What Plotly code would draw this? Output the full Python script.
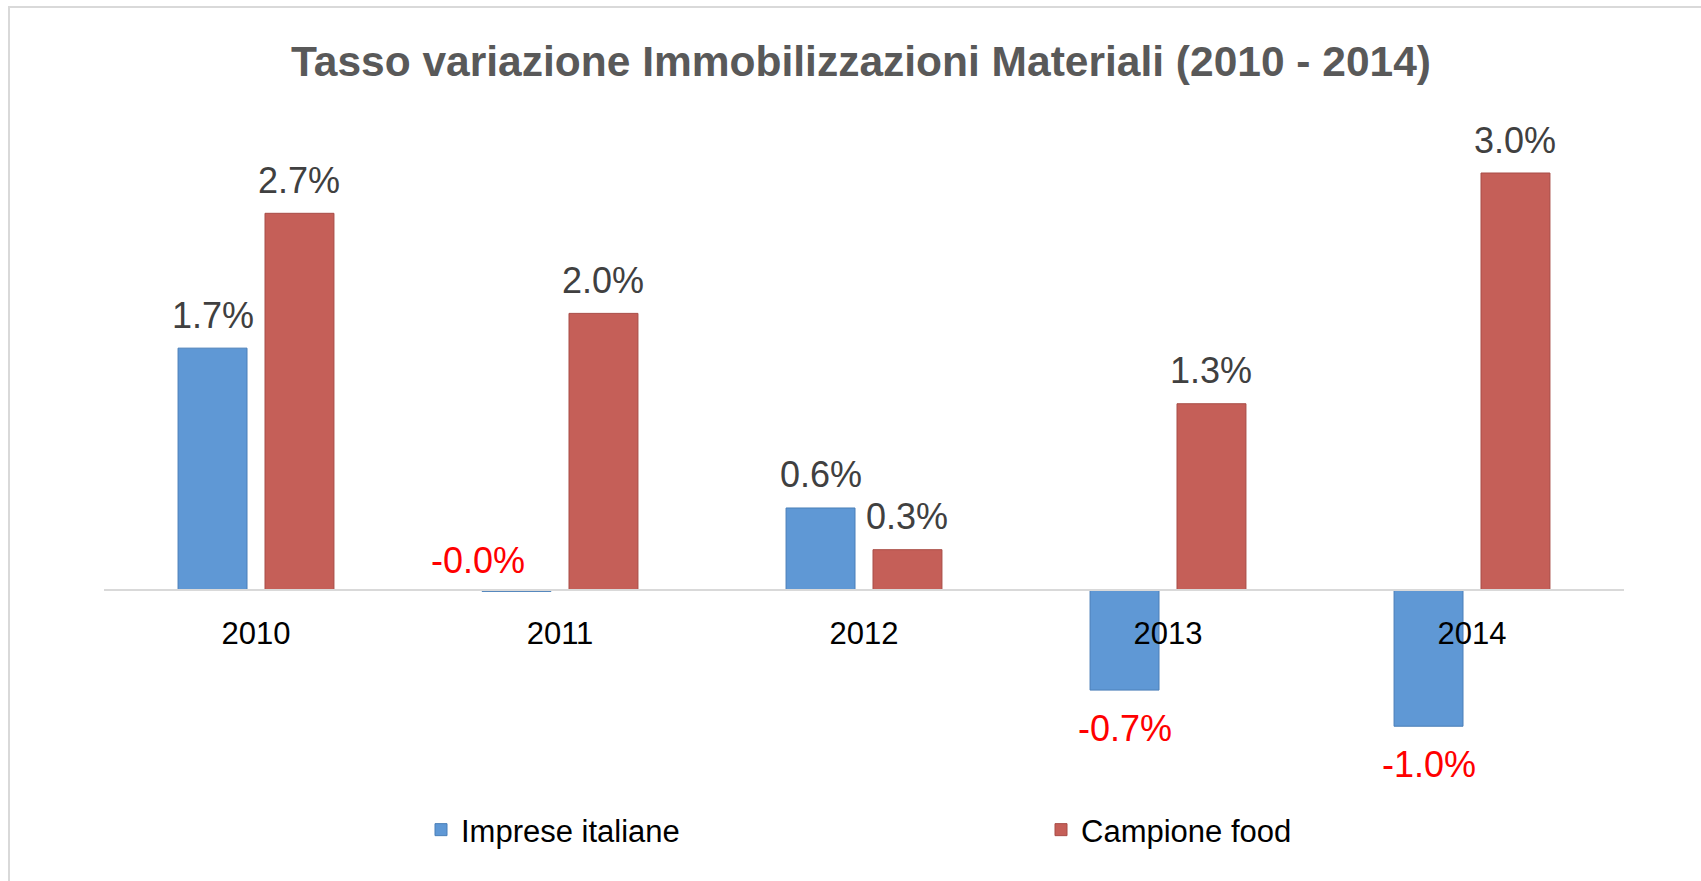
import plotly.graph_objects as go

# ---- data ----
years = ["2010", "2011", "2012", "2013", "2014"]
imprese_italiane = [1.74, -0.01, 0.59, -0.72, -0.98]
campione_food = [2.71, 1.99, 0.29, 1.34, 3.00]
imprese_labels = ["1.7%", "-0.0%", "0.6%", "-0.7%", "-1.0%"]
food_labels = ["2.7%", "2.0%", "0.3%", "1.3%", "3.0%"]
series_names = ["Imprese italiane", "Campione food"]

# ---- style ----
W, H = 1701, 881
ML, MR, MT, MB = 104, 77, 100, 80
ZERO_PX = 590
PX_PER_UNIT = 139.0
Y_TOP = (ZERO_PX - MT) / PX_PER_UNIT
Y_BOT = Y_TOP - (H - MT - MB) / PX_PER_UNIT
BARGAP = 0.428
BARGROUPGAP = 0.207
BLUE = "#5F98D5"
RED = "#C55F58"
FONT = "Liberation Sans, Arial, sans-serif"
LABEL_GREY = "#404040"

plot_w = W - ML - MR
plot_h = H - MT - MB

fig = go.Figure()
fig.add_trace(go.Bar(name=series_names[0], x=years, y=imprese_italiane,
                     marker=dict(color=BLUE, line=dict(color="#4A7FB8", width=1)),
                     legend="legend"))
fig.add_trace(go.Bar(name=series_names[1], x=years, y=campione_food,
                     marker=dict(color=RED, line=dict(color="#A84C46", width=1)),
                     legend="legend2"))

slot = (1 - BARGAP) / 4.0
annotations = []
for s, (vals, labs) in enumerate([(imprese_italiane, imprese_labels), (campione_food, food_labels)]):
    off = -slot if s == 0 else slot
    for i, (v, lab) in enumerate(zip(vals, labs)):
        if lab.startswith("-0.0"):
            annotations.append(dict(x=i - 0.271, y=0, xref="x", yref="y", text=lab,
                                    showarrow=False, yanchor="middle", yshift=30,
                                    font=dict(family=FONT, size=36, color="#FF0000")))
        elif v >= 0:
            annotations.append(dict(x=i + off, y=v, xref="x", yref="y", text=lab,
                                    showarrow=False, yanchor="middle", yshift=33,
                                    font=dict(family=FONT, size=36, color=LABEL_GREY)))
        else:
            annotations.append(dict(x=i + off, y=v, xref="x", yref="y", text=lab,
                                    showarrow=False, yanchor="middle", yshift=-38,
                                    font=dict(family=FONT, size=36, color="#FF0000")))

legend_common = dict(orientation="h", xanchor="left", yanchor="middle",
                     y=(H - MB - 830) / plot_h,
                     font=dict(family=FONT, size=31, color="black"),
                     bgcolor="rgba(0,0,0,0)")

fig.update_layout(
    width=W, height=H,
    margin=dict(l=ML, r=MR, t=MT, b=MB),
    paper_bgcolor="white", plot_bgcolor="white",
    barmode="group", bargap=BARGAP, bargroupgap=BARGROUPGAP,
    title=dict(text="<b>Tasso variazione Immobilizzazioni Materiali (2010 - 2014)</b>",
               x=(861 - ML) / plot_w, xref="paper", xanchor="center",
               y=1 - 61 / H, yanchor="middle",
               font=dict(family=FONT, size=42.5, color="#595959")),
    xaxis=dict(type="category", anchor="free",
               position=(0 - Y_BOT) / (Y_TOP - Y_BOT),
               showline=True, linecolor="#D9D9D9", linewidth=2,
               showgrid=False, zeroline=False, ticks="",
               tickfont=dict(family=FONT, size=31, color="black"),
               ticklabelstandoff=16),
    yaxis=dict(range=[Y_BOT, Y_TOP], visible=False),
    showlegend=True,
    legend=dict(x=(421 - ML) / plot_w, **legend_common),
    legend2=dict(x=(1041 - ML) / plot_w, **legend_common),
    annotations=annotations,
    shapes=[dict(type="rect", xref="paper", yref="paper",
                 x0=(9 - ML) / plot_w, x1=(W + 5 - ML) / plot_w,
                 y0=(H - MB - (H + 5)) / plot_h, y1=(H - MB - 7) / plot_h,
                 line=dict(color="#D9D9D9", width=2), fillcolor="rgba(0,0,0,0)",
                 layer="below")],
)

fig.write_html(
    "out.html",
    config={"displayModeBar": False},
    post_script="document.body.style.margin='0';document.body.style.padding='0';"
                "document.body.style.overflow='hidden';",
)
